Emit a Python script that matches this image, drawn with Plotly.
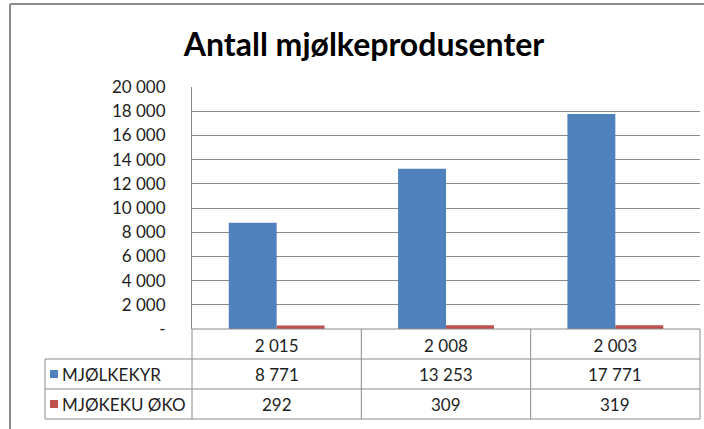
import plotly.graph_objects as go

# ---- data ----
title_text = "Antall mjølkeprodusenter"
categories = ["2 015", "2 008", "2 003"]
series_names = ["MJØLKEKYR", "MJØKEKU ØKO"]
mjolkekyr = [8771, 13253, 17771]
mjokeku_oko = [292, 309, 319]
y_tickvals = [0, 2000, 4000, 6000, 8000, 10000, 12000, 14000, 16000, 18000, 20000]
y_ticktext = ["-", "2 000", "4 000", "6 000", "8 000", "10 000", "12 000",
              "14 000", "16 000", "18 000", "20 000"]

colors = ["#4F81BD", "#C0504D"]
series_values = [mjolkekyr, mjokeku_oko]

W, H = 704, 429
L, R, T, B = 192, 4, 87, 100
pw, ph = W - L - R, H - T - B


def px(x):
    return (x - L) / pw


def py(y):
    return (H - B - y) / ph


FONT = "Lato, 'Open Sans', sans-serif"
TXT = "#1e1e1e"
GRID = "#8a8a8a"
FS = 17

fig = go.Figure()
for name, vals, col in zip(series_names, series_values, colors):
    fig.add_trace(go.Bar(x=categories, y=vals, name=name, marker_color=col,
                         marker_line_width=0, showlegend=False, hoverinfo="skip"))

shapes = []
annotations = []

# outer chart frame
shapes.append(dict(type="line", xref="paper", yref="paper", x0=px(10), x1=px(720),
                   y0=py(4), y1=py(4), line=dict(color="#8c8c8c", width=2)))
shapes.append(dict(type="line", xref="paper", yref="paper", x0=px(10), x1=px(10),
                   y0=py(4), y1=py(440), line=dict(color="#8c8c8c", width=2)))

# data table grid
row_lines = [329, 359, 389, 419]
tbl_left = 45
line_style = dict(color=GRID, width=1)
shapes.append(dict(type="line", xref="paper", yref="paper", x0=0, x1=1,
                   y0=py(329), y1=py(329), line=line_style))
for yy in row_lines[1:]:
    shapes.append(dict(type="line", xref="paper", yref="paper", x0=px(tbl_left), x1=1,
                       y0=py(yy), y1=py(yy), line=line_style))
shapes.append(dict(type="line", xref="paper", yref="paper", x0=px(tbl_left), x1=px(tbl_left),
                   y0=py(359), y1=py(419), line=line_style))
for i in range(len(categories) + 1):
    xv = i / len(categories)
    shapes.append(dict(type="line", xref="paper", yref="paper", x0=xv, x1=xv,
                       y0=py(329), y1=py(419), line=line_style))

# series rows: legend key + name + values
row_centers = [374, 404]
for name, vals, col, yc in zip(series_names, series_values, colors, row_centers):
    shapes.append(dict(type="rect", xref="paper", yref="paper",
                       x0=px(50), x1=px(58), y0=py(yc - 4), y1=py(yc + 4),
                       fillcolor=col, line=dict(width=0)))
    annotations.append(dict(x=px(60), y=py(yc), xref="paper", yref="paper",
                            text=name, showarrow=False, xanchor="left", yanchor="middle",
                            font=dict(family=FONT, size=FS, color=TXT)))
    for cat, v in zip(categories, vals):
        annotations.append(dict(x=cat, y=py(yc), xref="x", yref="paper",
                                text=f"{v:,}".replace(",", " "), showarrow=False,
                                xanchor="center", yanchor="middle",
                                font=dict(family=FONT, size=FS, color=TXT)))

fig.update_layout(
    width=W, height=H,
    margin=dict(l=L, r=R, t=T, b=B, pad=0),
    paper_bgcolor="white", plot_bgcolor="white",
    title=dict(text=title_text, x=364 / W, xref="container", xanchor="center",
               y=1 - 45 / H, yref="container", yanchor="middle",
               font=dict(family=FONT, size=32, color="#000000", weight="bold")),
    barmode="group", bargap=0.434, bargroupgap=0,
    shapes=shapes, annotations=annotations,
)
fig.update_xaxes(type="category", range=[-0.5, 2.5], showgrid=False, showline=False,
                 zeroline=False, ticks="", ticklabelstandoff=5,
                 tickfont=dict(family=FONT, size=FS, color=TXT))
fig.update_yaxes(range=[0, 20000], tickvals=y_tickvals, ticktext=y_ticktext,
                 showgrid=True, gridcolor=GRID, gridwidth=1, zeroline=False,
                 showline=True, linecolor=GRID, linewidth=1, ticks="",
                 ticklabelstandoff=22,
                 tickfont=dict(family=FONT, size=FS, color=TXT))

fig.write_html("out.html", config={"displayModeBar": False},
               post_script="document.body.style.margin='0px';")
